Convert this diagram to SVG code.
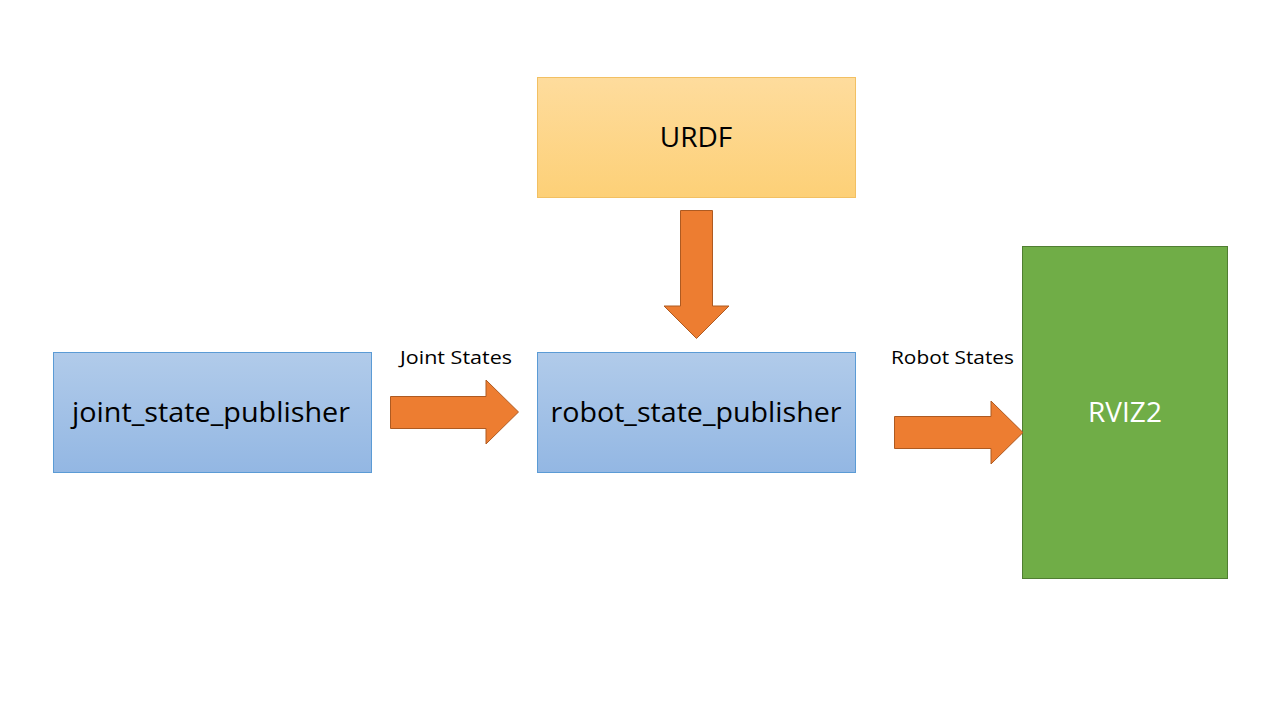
<svg xmlns="http://www.w3.org/2000/svg" width="1280" height="720" viewBox="0 0 1280 720">
<defs>
<linearGradient id="gBlue" x1="0" y1="0" x2="0" y2="1">
<stop offset="0" stop-color="#B1CBEA"/>
<stop offset="1" stop-color="#93B7E3"/>
</linearGradient>
<linearGradient id="gYellow" x1="0" y1="0" x2="0" y2="1">
<stop offset="0" stop-color="#FEDC9D"/>
<stop offset="1" stop-color="#FDD077"/>
</linearGradient>
</defs>
<style>
.blue{fill:url(#gBlue);stroke:#5B9BD5;stroke-width:1}
.yellow{fill:url(#gYellow);stroke:#F2C063;stroke-width:1}
.green{fill:#70AD47;stroke:#507E32;stroke-width:1}
.arrow{fill:#ED7D31;stroke:#AE5A21;stroke-width:1}
.big{font-family:"Open Sans","Liberation Sans",sans-serif;font-size:28px;text-anchor:middle;fill:#000}
.lbl{font-family:"Open Sans","Liberation Sans",sans-serif;font-size:19px;fill:#000}
</style>
<rect width="1280" height="720" fill="#FFFFFF"/>
<g id="urdf">
<rect class="yellow" x="537.5" y="77.5" width="318" height="120"/>
<text class="big" x="696" y="147">URDF</text>
</g>
<g id="joint_state_publisher">
<rect class="blue" x="53.5" y="352.5" width="318" height="120"/>
<text class="big" x="211" y="422" textLength="278" lengthAdjust="spacingAndGlyphs">joint_state_publisher</text>
</g>
<g id="robot_state_publisher">
<rect class="blue" x="537.5" y="352.5" width="318" height="120"/>
<text class="big" x="696" y="422" textLength="291" lengthAdjust="spacingAndGlyphs">robot_state_publisher</text>
</g>
<g id="rviz2">
<rect class="green" x="1022.5" y="246.5" width="205" height="332"/>
<text class="big" x="1125" y="422" style="fill:#FFFFFF">RVIZ2</text>
</g>
<g id="connectors">
<polygon class="arrow" points="680.5,210.5 712.5,210.5 712.5,306 729,306 696.5,338.5 664,306 680.5,306"/>
<polygon class="arrow" points="390.5,396.5 486,396.5 486,380 518.5,412 486,444 486,428.5 390.5,428.5"/>
<polygon class="arrow" points="894.5,416.5 991,416.5 991,401 1023,432.5 991,464 991,448.5 894.5,448.5"/>
<text class="lbl" x="400" y="364" textLength="112" lengthAdjust="spacingAndGlyphs">Joint States</text>
<text class="lbl" x="891" y="364" textLength="123" lengthAdjust="spacingAndGlyphs">Robot States</text>
</g>
</svg>
